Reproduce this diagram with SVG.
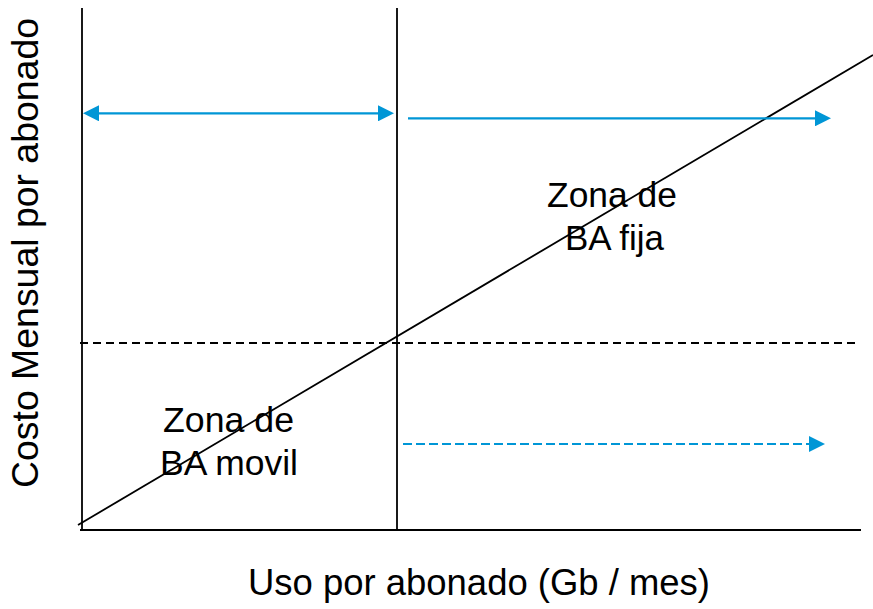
<svg xmlns="http://www.w3.org/2000/svg" width="873" height="609" viewBox="0 0 873 609">
<style>
.ax{stroke:#000;stroke-width:1.8;fill:none}
.dash{stroke:#000;stroke-width:1.8;stroke-dasharray:8 5;fill:none}
.blue{stroke:#0096d6;stroke-width:2.2;fill:none}
.bdash{stroke:#0096d6;stroke-width:2.2;stroke-dasharray:9 4;fill:none}
text{font-family:"Liberation Sans",Arial,sans-serif;font-size:35px;fill:#000}
.lbl{font-size:36px}
</style>
<defs>
<marker id="head" viewBox="0 0 16 16" refX="6" refY="8" markerWidth="16" markerHeight="16" markerUnits="userSpaceOnUse" orient="auto-start-reverse">
<path d="M0,0 L16,8 L0,16 z" fill="#0096d6"/>
</marker>
</defs>
<rect width="873" height="609" fill="#fff"/>
<g id="axes">
<line class="ax" x1="82" y1="8" x2="82" y2="531"/>
<line class="ax" x1="80" y1="530" x2="861" y2="530"/>
<line class="ax" x1="397" y1="8" x2="397" y2="531"/>
<line class="dash" x1="80" y1="343" x2="860" y2="343"/>
<line class="ax" x1="78" y1="525" x2="873" y2="55"/>
</g>
<g id="connectors">
<line class="blue" x1="93" y1="113.3" x2="384" y2="113.3" marker-start="url(#head)" marker-end="url(#head)"/>
<line class="blue" x1="408" y1="118.3" x2="821" y2="118.3" marker-end="url(#head)"/>
<line class="bdash" x1="403" y1="444" x2="815" y2="444" marker-end="url(#head)"/>
</g>
<g id="zona-fija">
<text x="547" y="207" textLength="130" lengthAdjust="spacingAndGlyphs">Zona de</text>
<text x="565" y="250" textLength="99" lengthAdjust="spacingAndGlyphs">BA fija</text>
</g>
<g id="zona-movil">
<text x="163" y="432" textLength="131" lengthAdjust="spacingAndGlyphs">Zona de</text>
<text x="160" y="475" textLength="138" lengthAdjust="spacingAndGlyphs">BA movil</text>
</g>
<g id="x-label">
<text class="lbl" x="248" y="595" textLength="462" lengthAdjust="spacingAndGlyphs">Uso por abonado (Gb / mes)</text>
</g>
<g id="y-label">
<text class="lbl" x="38" y="488" transform="rotate(-90 38 488)" textLength="470" lengthAdjust="spacingAndGlyphs">Costo Mensual por abonado</text>
</g>
</svg>
